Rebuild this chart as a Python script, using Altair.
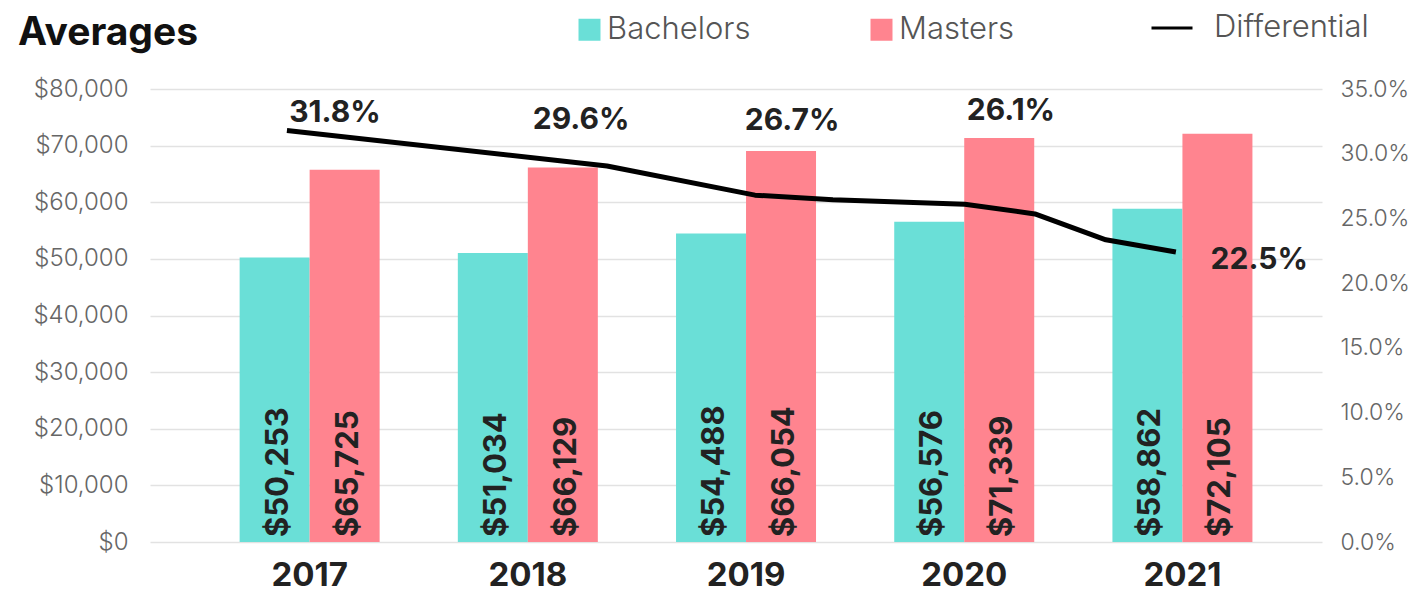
import altair as alt
import pandas as pd

# ---------------- data ----------------
YEARS = ["2017", "2018", "2019", "2020", "2021"]
DEGREES = ["Bachelors", "Masters"]
BACHELORS = [50253, 51034, 54488, 56576, 58862]
MASTERS = [65725, 66129, 69050, 71339, 72105]  # bar heights as drawn
BACHELORS_LABELS = ["$50,253", "$51,034", "$54,488", "$56,576", "$58,862"]
MASTERS_LABELS = ["$65,725", "$66,129", "$66,054", "$71,339", "$72,105"]
DIFF_VALUES = [31.8, 29.6, 26.7, 26.1, 22.5]
# differential line vertices (fractional year position, percent)
LINE_POS = [2016.896, 2018.363, 2019.041, 2019.398, 2020.003, 2020.324, 2020.649, 2020.970]
LINE_VAL = [31.8, 29.05, 26.8, 26.45, 26.1, 25.35, 23.35, 22.4]

# ---------------- layout ----------------
FONT = "Inter"
W, H = 1172, 453
PAD_INNER, PAD_OUTER, ALIGN = 0.3584, 0.3648, 0.563
N = len(YEARS)
STEP = W / (N - PAD_INNER + 2 * PAD_OUTER)
START = (W - STEP * (N - PAD_INNER)) * ALIGN
FIRST_CENTER = START + STEP * (1 - PAD_INNER) / 2
X0 = int(YEARS[0]) - FIRST_CENTER / STEP
X1 = X0 + W / STEP
DIFF_LABEL_X = [2017.116, 2018.244, 2019.211, 2020.214, 2021.352]
DIFF_LABEL_Y = [33.15, 32.6, 32.5, 33.3, 21.8]
TEAL, PINK = "#6ADFD7", "#FF848F"

bars_df = pd.DataFrame({
    "year": YEARS * 2,
    "degree": ["Bachelors"] * 5 + ["Masters"] * 5,
    "value": BACHELORS + MASTERS,
    "label": BACHELORS_LABELS + MASTERS_LABELS,
})
line_df = pd.DataFrame({"pos": LINE_POS, "val": LINE_VAL, "series": ["Differential"] * len(LINE_POS)})
lab_df = pd.DataFrame({
    "pos": DIFF_LABEL_X,
    "val": DIFF_LABEL_Y,
    "text": [f"{v:.1f}%" for v in DIFF_VALUES],
})

x_band = alt.X(
    "year:N", sort=YEARS,
    scale=alt.Scale(paddingInner=PAD_INNER, paddingOuter=PAD_OUTER, align=ALIGN),
    axis=alt.Axis(title=None, labelAngle=0, labelFont=FONT, labelFontSize=33,
                  labelFontWeight="bold", labelColor="#222222", ticks=False,
                  domain=False, labelPadding=17, grid=False),
)
y_money = alt.Y(
    "value:Q", scale=alt.Scale(domain=[0, 80000], nice=False),
    axis=alt.Axis(title=None, values=list(range(0, 80001, 10000)), format="$,.0f",
                  labelFont=FONT, labelFontSize=24, labelFontWeight=300,
                  labelColor="#666666", ticks=False, domain=False, labelPadding=22,
                  grid=True, gridColor="#E2E2E2", gridWidth=1.5),
)

bars = alt.Chart(bars_df).mark_bar().encode(
    x=x_band,
    xOffset=alt.XOffset("degree:N", sort=DEGREES),
    y=y_money,
    color=alt.Color(
        "degree:N", sort=DEGREES,
        scale=alt.Scale(domain=DEGREES, range=[TEAL, PINK]),
        legend=alt.Legend(orient="none", legendX=424, legendY=-75, direction="horizontal",
                          title=None, symbolType="square", symbolSize=484,
                          symbolStrokeWidth=0, labelFont=FONT, labelFontSize=31,
                          labelFontWeight=300, labelColor="#555555", labelOffset=2,
                          columnPadding=115, padding=0),
    ),
)

bar_text = alt.Chart(bars_df).transform_calculate(base="0").mark_text(
    angle=270, align="left", baseline="middle", dx=5, dy=4,
    font=FONT, fontSize=31, fontWeight="bold", color="#222222",
).encode(
    x=alt.X("year:N", sort=YEARS),
    xOffset=alt.XOffset("degree:N", sort=DEGREES),
    y=alt.Y("base:Q"),
    text="label:N",
)

x_lin = alt.X("pos:Q", scale=alt.Scale(domain=[X0, X1], nice=False, zero=False), axis=None)
y_pct = alt.Y(
    "val:Q", scale=alt.Scale(domain=[0, 35], nice=False),
    axis=alt.Axis(title=None, orient="right", values=list(range(0, 36, 5)),
                  labelExpr="format(datum.value, '.1f') + '%'",
                  labelFont=FONT, labelFontSize=23, labelFontWeight=300,
                  labelColor="#666666", ticks=False, domain=False, labelPadding=18,
                  grid=False),
)

line = alt.Chart(line_df).mark_line(strokeWidth=5, strokeJoin="round").encode(
    x=x_lin,
    y=y_pct,
    stroke=alt.Stroke(
        "series:N",
        scale=alt.Scale(domain=["Differential"], range=["#000000"]),
        legend=alt.Legend(orient="none", legendX=1000, legendY=-83, title=None,
                          symbolType="stroke", symbolSize=1681, symbolStrokeWidth=3,
                          labelFont=FONT, labelFontSize=31, labelFontWeight=300,
                          labelColor="#555555", labelOffset=20, padding=0),
    ),
)

line_text = alt.Chart(lab_df).mark_text(
    align="center", baseline="middle", font=FONT, fontSize=30,
    fontWeight="bold", color="#222222",
).encode(x=alt.X("pos:Q"), y=alt.Y("val:Q"), text="text:N")

left = alt.layer(bars, bar_text)
right = alt.layer(line, line_text)

chart = alt.layer(left, right).resolve_scale(
    x="independent", y="independent"
).properties(
    width=W, height=H,
    autosize=alt.AutoSizeParams(type="none"),
    padding={"left": 142, "top": 81, "right": 88, "bottom": 52},
    title=alt.TitleParams("Averages", anchor="start", frame="group", dx=-132, dy=51,
                          font=FONT, fontSize=39, fontWeight="bold", color="#111111"),
).configure_view(strokeWidth=0)

chart.save("out.html", embed_options={"renderer": "svg", "actions": False})
